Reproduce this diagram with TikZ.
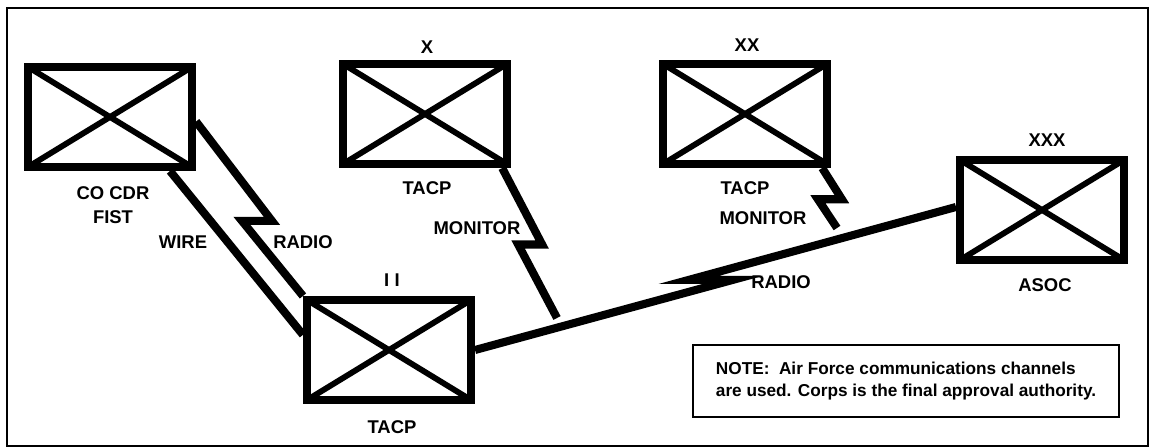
\documentclass[tikz,border=0pt]{standalone}
\usepackage{fontspec}
\setmainfont{Liberation Sans}
\usepackage{tikz}
\usetikzlibrary{calc,backgrounds}

\begin{document}
\begin{tikzpicture}[x=0.02cm,y=-0.02cm,
	unit/.style={draw,fill=white,line width=4.6pt,minimum width=3.28cm,minimum height=2cm,inner sep=0pt,
		path picture={\draw[line width=3.3pt] (path picture bounding box.north west) -- (path picture bounding box.south east)
			(path picture bounding box.south west) -- (path picture bounding box.north east);}},
	lbl/.style={font=\fontsize{10.5}{13.6}\selectfont\bfseries,inner sep=1pt,align=center},
	note/.style={draw,line width=1.1pt,minimum width=8.52cm,minimum height=1.44cm,align=left,
		font=\fontsize{9.8}{13}\selectfont\bfseries},
	link/.style={line width=4.6pt,line join=miter},
	bolt/.style 2 args={to path={-- ($(\tikztostart)!#1!(\tikztotarget)+(#2,0)$) -- ($(\tikztostart)!#1!(\tikztotarget)-(#2,0)$) -- (\tikztotarget)}}]
	\useasboundingbox (0,0) rectangle (1151,448);
	\draw[line width=1.1pt] (7,8) rectangle (1148,446);
	% units
	\node[unit] (cocdr) at (110,117) {};
	\node[unit] (tacpX) at (425,114) {};
	\node[unit] (tacpXX) at (745,114) {};
	\node[unit] (asoc) at (1042,210) {};
	\node[unit] (tacpII) at (389,350) {};
	% echelons and names
	\node[lbl] (echX) at (427,47) {X};
	\node[lbl] (echXX) at (747,45) {XX};
	\node[lbl] (echXXX) at (1047,140) {XXX};
	\node[lbl] (echII) at (392,280) {I\hspace{3pt}I};
	\node[lbl] (cocdrtxt) at (113,205) {CO CDR\\FIST};
	\node[lbl] (tacpXtxt) at (427,188) {TACP};
	\node[lbl] (tacpXXtxt) at (745,188) {TACP};
	\node[lbl] (monXXtxt) at (763,218) {MONITOR};
	\node[lbl] (asoctxt) at (1045,285) {ASOC};
	\node[lbl] (tacpIItxt) at (392,427) {TACP};
	% link labels
	\node[lbl] (wiretxt) at (183,242) {WIRE};
	\node[lbl] (radiotxt) at (303,242) {RADIO};
	\node[lbl] (monXtxt) at (477,228) {MONITOR};
	\node[lbl] (radiotxtb) at (781,282) {RADIO};
	\node[note] (note) at (906,381) {NOTE:\ \ Air Force communications channels\\are used. Corps is the final approval authority.};
	\coordinate (monXend) at (557,318);
	\coordinate (monXXend) at (837,228);
	\begin{scope}[on background layer]
		\draw[link] (cocdr.318) -- (tacpII.170);
		\draw[link] (cocdr.357) to[bolt={0.57}{15}] (tacpII.north west);
		\draw[link] (tacpX.325) to[bolt={0.51}{12}] (monXend);
		\draw[link] (tacpXX.325) to[bolt={0.52}{12}] (monXXend);
		\draw[link] (tacpII.east) to[bolt={0.49}{22}] (asoc.178);
	\end{scope}
\end{tikzpicture}
\end{document}
